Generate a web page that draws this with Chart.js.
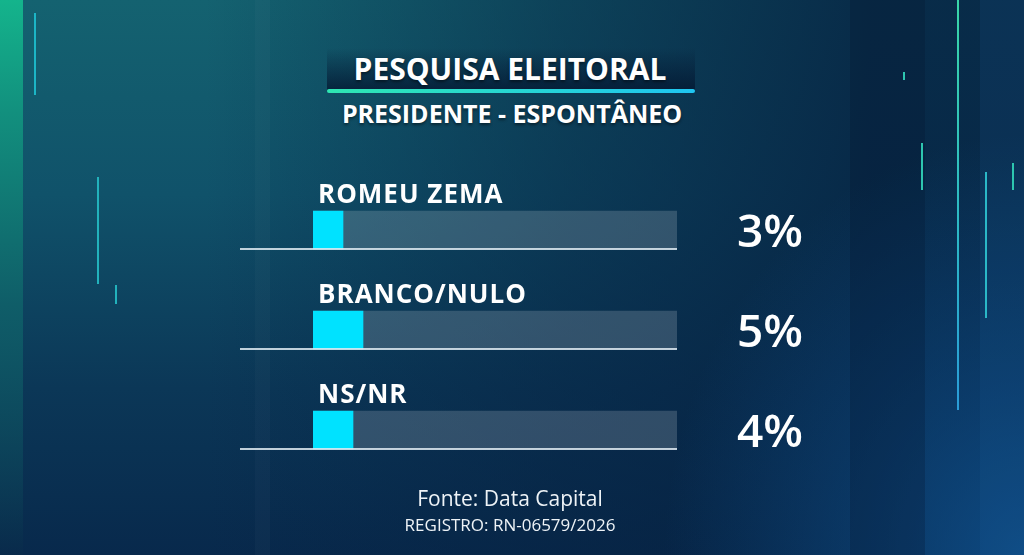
<!DOCTYPE html>
<html lang="pt-BR">
<head>
<meta charset="utf-8">
<title>Pesquisa Eleitoral</title>
<script src="https://cdn.jsdelivr.net/npm/chart.js@4.4.1/dist/chart.umd.min.js"></script>
<style>
    html, body {
        margin: 0;
        padding: 0;
    }
    body {
        width: 1024px;
        height: 555px;
        overflow: hidden;
        position: relative;
        font-family: "Open Sans", "Noto Sans", sans-serif;
        color: #fff;
        background:
            radial-gradient(ellipse 360px 420px at 100% 100%, rgba(16, 86, 150, 0.75), rgba(16, 86, 150, 0) 100%),
            linear-gradient(90deg, rgba(6, 34, 66, 0) 20%, rgba(6, 34, 66, 0.5) 55%, rgba(6, 34, 66, 0.85) 85%),
            linear-gradient(180deg, #146270 0%, #10526a 35%, #0b3757 70%, #08294c 100%);
    }
    .faixa { position: absolute; top: 0; height: 555px; }
    .linha { position: absolute; width: 2px; }
    #chart { position: absolute; left: 0; top: 0; }
    .titulo-fundo {
        position: absolute;
        left: 327px; top: 48px; width: 368px; height: 42px;
        background: linear-gradient(180deg, rgba(4, 24, 50, 0) 0%, rgba(4, 24, 50, 0.8) 100%);
    }
    .titulo-linha {
        position: absolute;
        left: 327px; top: 89px; width: 368px; height: 4px;
        border-radius: 2px;
        background: linear-gradient(90deg, #2fe6b2, #1fc6f2);
    }
    .texto {
        position: absolute;
        left: 0; width: 1020px;
        text-align: center;
        line-height: 1;
        white-space: nowrap;
    }
    #titulo { top: 54px; font-size: 30px; font-weight: 700; text-shadow: 0 2px 3px rgba(0,0,0,0.45); }
    #subtitulo { top: 101px; font-size: 25px; font-weight: 700; text-shadow: 0 2px 3px rgba(0,0,0,0.45); left: 2px; }
    #fonte { top: 488px; font-size: 21px; font-weight: 400; color: #eef3f7; }
    #registro { top: 516px; font-size: 17px; font-weight: 400; color: #eef3f7; }
</style>
</head>
<body>
<!-- faixas verticais do fundo -->
<div class="faixa" style="left:0; width:23px; background: linear-gradient(180deg, #14b48c 0%, #12907e 20%, #0f5d68 55%, rgba(10,44,74,0.4) 100%);"></div>
<div class="faixa" style="left:255px; width:15px; background: rgba(255,255,255,0.025);"></div>
<div class="faixa" style="left:850px; width:75px; background: rgba(4,20,44,0.25);"></div>
<div class="faixa" style="left:980px; width:44px; background: rgba(30,110,170,0.12);"></div>

<div class="linha" style="left:34px; top:13px; height:82px; background:#1cb6c6;"></div>
<div class="linha" style="left:97px; top:177px; height:107px; background:#22b2bc;"></div>
<div class="linha" style="left:115px; top:285px; height:19px; background:#22b2bc;"></div>
<div class="linha" style="left:903px; top:72px; height:8px; background:#2ec6b0;"></div>
<div class="linha" style="left:921px; top:143px; height:47px; background:#2ec6b0;"></div>
<div class="linha" style="left:957px; top:0; height:410px; background: linear-gradient(180deg, #39d6a8, #2bb6c8 60%, #2a9cd8);"></div>
<div class="linha" style="left:985px; top:172px; height:146px; background:#2ab8c8;"></div>
<div class="linha" style="left:1012px; top:163px; height:27px; background:#2ec6b0;"></div>

<div class="titulo-fundo"></div>
<div class="titulo-linha"></div>
<div class="texto" id="titulo">PESQUISA ELEITORAL</div>
<div class="texto" id="subtitulo">PRESIDENTE - ESPONTÂNEO</div>

<canvas id="chart" width="1024" height="555"></canvas>

<div class="texto" id="fonte">Fonte: Data Capital</div>
<div class="texto" id="registro">REGISTRO: RN-06579/2026</div>

<script>
// dados da pesquisa (espontânea)
const categorias = ['ROMEU ZEMA', 'BRANCO/NULO', 'NS/NR'];
const percentuais = [3, 5, 4];
const escalaMax = 36.4; // valor que preenche o trilho inteiro

// rótulos, percentuais e linha de base de cada barra
const rotulosBarras = {
    id: 'rotulosBarras',
    afterDatasetsDraw(chart) {
        const { ctx, chartArea } = chart;
        const meta = chart.getDatasetMeta(0);
        ctx.save();
        meta.data.forEach((bar, i) => {
            const topo = bar.y - bar.height / 2;
            const base = bar.y + bar.height / 2;

            ctx.strokeStyle = 'rgba(225, 235, 242, 0.85)';
            ctx.lineWidth = 2;
            ctx.beginPath();
            ctx.moveTo(chartArea.left - 73, base);
            ctx.lineTo(chartArea.right, base);
            ctx.stroke();

            ctx.fillStyle = '#ffffff';
            ctx.textAlign = 'left';
            ctx.textBaseline = 'alphabetic';
            ctx.letterSpacing = '1px';
            ctx.font = 'bold 26px "Open Sans"';
            ctx.fillText(categorias[i], chartArea.left + 5, topo - 8);

            ctx.letterSpacing = '0px';
            ctx.font = '600 46px "Open Sans"';
            ctx.fillText(percentuais[i] + '%', chartArea.right + 60, base - 2);
        });
        ctx.restore();
    }
};

const ctx = document.getElementById('chart');
new Chart(ctx, {
    type: 'bar',
    data: {
        labels: categorias,
        datasets: [
            {
                label: 'Percentual',
                data: percentuais,
                backgroundColor: '#00e2ff',
                barThickness: 38,
                grouped: false
            },
            {
                label: 'Trilho',
                data: categorias.map(() => escalaMax),
                backgroundColor: 'rgba(255, 255, 255, 0.17)',
                barThickness: 38,
                grouped: false
            }
        ]
    },
    options: {
        indexAxis: 'y',
        responsive: false,
        animation: false,
        layout: {
            padding: { left: 313, right: 347, top: 180, bottom: 75 }
        },
        scales: {
            x: { display: false, min: 0, max: escalaMax },
            y: { display: false }
        },
        plugins: {
            legend: { display: false },
            tooltip: { enabled: false }
        }
    },
    plugins: [rotulosBarras]
});
</script>
</body>
</html>
